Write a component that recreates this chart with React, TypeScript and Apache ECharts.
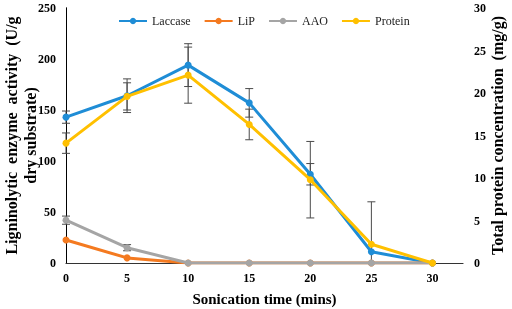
import React, { useEffect, useRef } from "react";
import * as echarts from "echarts";

const times = [0, 5, 10, 15, 20, 25, 30];
const laccase = [143, 164, 194, 157, 87, 11, 0];
const laccaseErr = [6, 16.5, 21, 14, 10.5, 49, 0];
const lip = [22.5, 5, 0, 0, 0, 0, 0];
const aao = [42, 15, 0, 0, 0, 0, 0];
const aaoErr = [4, 3, 0, 0, 0, 0, 0];
const protein = [14.1, 19.6, 22.1, 16.3, 9.8, 2.2, 0];
const proteinErr = [1.2, 1.6, 3.3, 1.8, 4.5, 0, 0];

const FONT = "Liberation Serif";

function errSeries(vals: number[], errs: number[], yAxisIndex: number) {
  const data = times.map((t, i) => [t, Math.max(0, vals[i] - errs[i]), vals[i] + errs[i], errs[i]]);
  return {
    type: "custom",
    yAxisIndex,
    silent: true,
    z: 1,
    data: data.filter((d) => d[3] > 0),
    renderItem: (params: any, api: any) => {
      const x = api.value(0);
      const lo = api.coord([x, api.value(1)]);
      const hi = api.coord([x, api.value(2)]);
      const w = 4;
      const style = { stroke: "#4a4a4a", lineWidth: 1 };
      return {
        type: "group",
        children: [
          { type: "line", shape: { x1: lo[0], y1: lo[1], x2: hi[0], y2: hi[1] }, style },
          { type: "line", shape: { x1: hi[0] - w, y1: hi[1], x2: hi[0] + w, y2: hi[1] }, style },
          { type: "line", shape: { x1: lo[0] - w, y1: lo[1], x2: lo[0] + w, y2: lo[1] }, style },
        ],
      };
    },
  };
}

function lineSeries(name: string, vals: number[], color: string, yAxisIndex: number, z: number) {
  return {
    name,
    type: "line",
    yAxisIndex,
    z,
    data: times.map((t, i) => [t, vals[i]]),
    symbol: "circle",
    symbolSize: 7,
    lineStyle: { color, width: 3 },
    itemStyle: { color },
  };
}

export default function App() {
  const ref = useRef<HTMLDivElement>(null);
  useEffect(() => {
    const chart = echarts.init(ref.current!, undefined, { renderer: "svg" });
    const labelStyle = { fontFamily: FONT, fontWeight: "bold", fontSize: 12, color: "#000" };
    chart.setOption({
      animation: false,
      grid: { left: 66, top: 8, right: 49, bottom: 46, containLabel: false, outerBoundsMode: "none" },
      legend: {
        top: 10,
        left: 113,
        itemWidth: 28,
        itemHeight: 8,
        itemGap: 13,
        textStyle: { fontFamily: FONT, fontSize: 12, color: "#222" },
        data: ["Laccase", "LiP", "AAO", "Protein"],
      },
      xAxis: [
        {
          type: "value",
          min: 0,
          max: 32.5,
          interval: 5,
          name: "Sonication time (mins)",
          nameLocation: "middle",
          nameGap: 28,
          nameMoveOverlap: false,
          nameTextStyle: { fontFamily: FONT, fontWeight: "bold", fontSize: 15, color: "#000" },
          axisLine: { lineStyle: { color: "#d0d0d0", width: 1 } },
          axisTick: { show: false },
          splitLine: { show: false },
          axisLabel: {
            ...labelStyle,
            margin: 9,
            formatter: (v: number) => (v % 5 === 0 ? String(v) : ""),
          },
        },
        {
          type: "value",
          min: 0,
          max: 32.5,
          position: "top",
          axisLine: { show: true, lineStyle: { color: "#333", width: 1 } },
          axisTick: { show: false },
          axisLabel: { show: false },
          splitLine: { show: false },
        },
      ],
      yAxis: [
        {
          type: "value",
          min: 0,
          max: 250,
          interval: 50,
          name: "Ligninolytic  enzyme  activity  (U/g\ndry substrate)",
          nameLocation: "middle",
          nameGap: 26,
          nameRotate: 90,
          nameMoveOverlap: false,
          nameTextStyle: { fontFamily: FONT, fontWeight: "bold", fontSize: 16, color: "#000", lineHeight: 19 },
          axisLine: { show: true, lineStyle: { color: "#000", width: 1 } },
          axisTick: { show: false },
          splitLine: { show: false },
          axisLabel: { ...labelStyle, margin: 10 },
        },
        {
          type: "value",
          min: 0,
          max: 30,
          interval: 5,
          position: "right",
          name: "Total protein concentration  (mg/g)",
          nameLocation: "middle",
          nameGap: 26,
          nameRotate: 90,
          nameMoveOverlap: false,
          nameTextStyle: { fontFamily: FONT, fontWeight: "bold", fontSize: 16, color: "#000" },
          axisLine: { show: true, lineStyle: { color: "#000", width: 1 } },
          axisTick: { show: false },
          splitLine: { show: false },
          axisLabel: { ...labelStyle, margin: 11 },
        },
      ],
      series: [
        errSeries(laccase, laccaseErr, 0),
        errSeries(aao, aaoErr, 0),
        errSeries(protein, proteinErr, 1),
        lineSeries("Laccase", laccase, "#1f8dd6", 0, 2),
        lineSeries("LiP", lip, "#f47a20", 0, 3),
        lineSeries("AAO", aao, "#a5a5a5", 0, 4),
        lineSeries("Protein", protein, "#ffc000", 1, 5),
      ],
    });
    return () => chart.dispose();
  }, []);
  return <div ref={ref} style={{ position: "fixed", left: 0, top: 0, width: 512, height: 309 }} />;
}
